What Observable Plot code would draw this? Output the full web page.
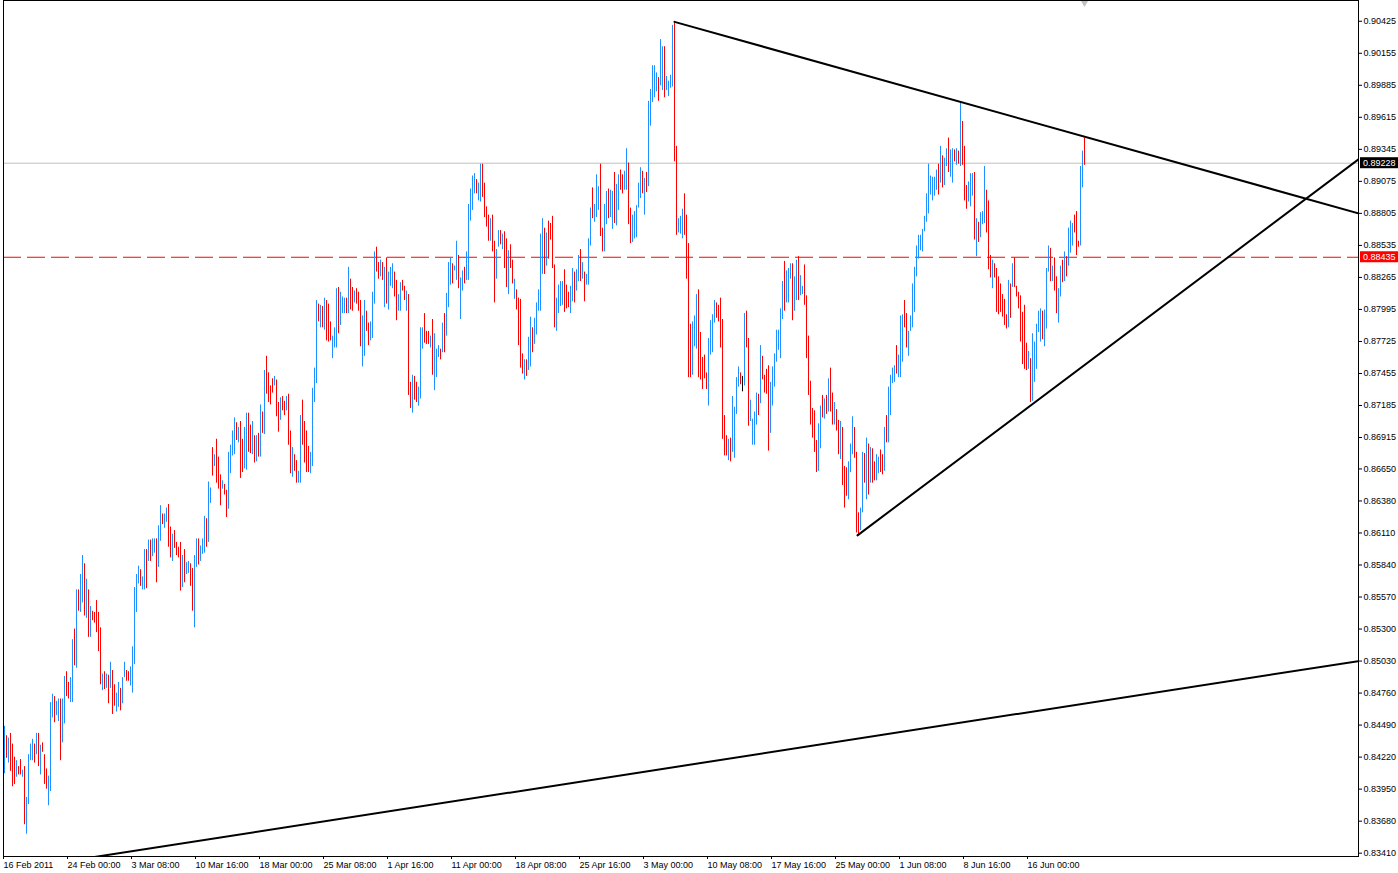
<!DOCTYPE html>
<html>
<head>
<meta charset="utf-8">
<script src="https://cdn.jsdelivr.net/npm/d3@7"></script>
<script src="https://cdn.jsdelivr.net/npm/@observablehq/plot@0.6"></script>
<style>
html, body { margin: 0; padding: 0; background: #ffffff; overflow: hidden; }
#chart svg { display: block; }
</style>
</head>
<body>
<div id="chart"></div>
<script>
// 4-hour bars, prices in units of 0.0001 (pips)
const highPips = [
  8448,8440,8438,8442,8433,8422,8419,8414,8420,8411,
  8414,8388,8424,8433,8437,8433,8442,8442,8432,8434,
  8424,8412,8406,8468,8475,8473,8469,8471,8471,8471,
  8490,8494,8485,8489,8521,8530,8563,8563,8576,8592,
  8585,8572,8563,8549,8545,8544,8554,8544,8531,8492,
  8494,8492,8491,8502,8495,8483,8476,8485,8480,8489,
  8502,8495,8494,8498,8515,8565,8576,8583,8580,8574,
  8597,8597,8605,8605,8606,8606,8606,8617,8634,8627,
  8627,8632,8635,8616,8610,8613,8603,8599,8603,8592,
  8597,8586,8587,8585,8581,8592,8606,8606,8600,8606,
  8625,8623,8654,8649,8683,8677,8690,8675,8660,8655,
  8652,8647,8679,8685,8697,8708,8704,8700,8705,8690,
  8700,8712,8712,8702,8705,8693,8693,8695,8719,8713,
  8748,8760,8746,8735,8741,8743,8740,8721,8725,8726,
  8722,8726,8728,8697,8683,8677,8672,8663,8710,8723,
  8705,8697,8684,8679,8733,8750,8807,8804,8803,8802,
  8809,8807,8804,8789,8777,8784,8817,8818,8814,8810,
  8809,8809,8835,8825,8818,8815,8817,8814,8807,8794,
  8807,8798,8788,8789,8814,8848,8852,8839,8841,8839,
  8835,8843,8831,8835,8838,8831,8824,8812,8822,8824,
  8819,8815,8812,8738,8744,8743,8738,8734,8784,8784,
  8796,8781,8781,8777,8791,8779,8766,8769,8766,8788,
  8796,8813,8839,8843,8838,8836,8857,8845,8826,8832,
  8835,8848,8888,8901,8912,8914,8909,8906,8922,8922,
  8906,8886,8879,8876,8879,8857,8850,8866,8866,8863,
  8865,8859,8849,8854,8841,8825,8816,8809,8808,8762,
  8757,8757,8776,8793,8784,8792,8805,8816,8863,8876,
  8868,8864,8874,8872,8878,8837,8809,8820,8823,8823,
  8833,8820,8814,8819,8834,8831,8833,8845,8850,8839,
  8831,8829,8859,8885,8902,8888,8913,8903,8922,8868,
  8888,8899,8901,8900,8899,8915,8905,8913,8917,8913,
  8916,8935,8923,8885,8879,8882,8887,8906,8919,8916,
  8910,8915,8975,8985,9005,9005,8999,8995,9027,9021,
  9021,8996,8992,8997,9039,9041,8937,8876,8878,8884,
  8897,8879,8855,8787,8789,8794,8812,8816,8780,8759,
  8761,8746,8775,8790,8795,8807,8805,8803,8809,8791,
  8710,8693,8690,8691,8726,8717,8742,8751,8746,8743,
  8796,8798,8775,8723,8707,8713,8729,8728,8769,8760,
  8744,8749,8752,8738,8751,8762,8782,8782,8800,8823,
  8840,8832,8834,8838,8838,8827,8841,8844,8828,8819,
  8837,8811,8777,8739,8716,8714,8689,8703,8718,8727,
  8724,8727,8741,8750,8729,8721,8715,8706,8705,8700,
  8667,8666,8671,8686,8709,8700,8679,8628,8632,8679,
  8678,8691,8686,8683,8682,8671,8677,8675,8681,8677,
  8700,8710,8734,8744,8750,8752,8769,8761,8794,8795,
  8807,8796,8781,8794,8821,8835,8853,8862,8862,8867,
  8878,8897,8922,8912,8911,8911,8917,8922,8937,8929,
  8927,8935,8944,8934,8935,8934,8935,8933,8974,8958,
  8937,8904,8907,8914,8914,8915,8876,8873,8881,8882,
  8920,8900,8891,8845,8841,8838,8834,8827,8821,8812,
  8808,8795,8824,8821,8838,8843,8819,8814,8811,8797,
  8803,8771,8764,8758,8779,8772,8787,8798,8800,8798,
  8799,8834,8853,8851,8836,8843,8827,8817,8836,8841,
  8848,8844,8868,8874,8872,8879,8882,8857,8920,8933,
  8944
];
const lowPips = [
  8408,8421,8417,8410,8397,8399,8405,8407,8407,8405,
  8365,8357,8382,8419,8419,8417,8424,8414,8407,8426,
  8399,8395,8381,8393,8455,8451,8457,8452,8419,8434,
  8450,8473,8471,8468,8468,8499,8497,8545,8544,8552,
  8541,8539,8523,8523,8537,8535,8527,8511,8483,8478,
  8479,8480,8467,8480,8458,8465,8460,8464,8461,8467,
  8489,8486,8486,8482,8476,8500,8544,8568,8566,8563,
  8563,8564,8587,8587,8591,8594,8569,8582,8604,8618,
  8615,8620,8599,8590,8587,8598,8592,8590,8562,8565,
  8569,8576,8577,8566,8545,8531,8582,8584,8587,8593,
  8594,8599,8603,8636,8659,8667,8653,8648,8634,8648,
  8643,8624,8631,8661,8676,8677,8689,8687,8657,8662,
  8665,8664,8679,8678,8677,8670,8671,8675,8675,8695,
  8694,8728,8721,8719,8729,8735,8709,8696,8706,8714,
  8710,8714,8685,8661,8658,8663,8653,8653,8653,8685,
  8670,8662,8662,8661,8667,8721,8737,8789,8784,8784,
  8782,8773,8772,8773,8758,8767,8767,8779,8786,8796,
  8796,8796,8796,8799,8798,8805,8804,8798,8768,8751,
  8760,8781,8769,8773,8775,8804,8831,8825,8827,8824,
  8801,8804,8799,8819,8817,8810,8790,8798,8798,8815,
  8807,8798,8727,8716,8712,8723,8721,8718,8724,8766,
  8771,8770,8770,8767,8744,8731,8742,8759,8757,8763,
  8763,8777,8801,8820,8821,8832,8824,8817,8791,8815,
  8821,8824,8824,8874,8883,8897,8897,8891,8890,8894,
  8877,8869,8857,8857,8848,8805,8825,8852,8854,8850,
  8834,8818,8812,8834,8821,8808,8799,8769,8750,8745,
  8740,8743,8748,8751,8763,8770,8778,8798,8798,8829,
  8829,8836,8842,8858,8834,8784,8781,8796,8802,8803,
  8797,8800,8801,8796,8806,8805,8815,8823,8823,8825,
  8806,8820,8820,8853,8876,8873,8877,8883,8861,8848,
  8848,8871,8876,8877,8867,8872,8870,8883,8900,8897,
  8900,8900,8871,8855,8856,8859,8860,8885,8893,8897,
  8879,8898,8903,8954,8974,8978,8983,8975,8988,8984,
  8978,8984,8979,8986,8987,8924,8862,8864,8863,8859,
  8862,8825,8742,8742,8744,8768,8766,8742,8740,8732,
  8741,8732,8718,8761,8763,8788,8792,8789,8767,8690,
  8676,8676,8672,8671,8679,8674,8711,8734,8736,8730,
  8735,8767,8701,8705,8685,8685,8702,8710,8720,8740,
  8729,8728,8680,8695,8718,8734,8755,8765,8758,8791,
  8798,8805,8805,8825,8790,8798,8807,8807,8811,8812,
  8803,8758,8727,8702,8691,8679,8662,8663,8682,8708,
  8707,8711,8713,8713,8702,8702,8697,8677,8673,8651,
  8632,8642,8639,8662,8677,8674,8611,8609,8613,8628,
  8653,8639,8643,8653,8653,8655,8655,8661,8662,8660,
  8663,8687,8687,8710,8737,8738,8745,8742,8742,8755,
  8784,8767,8760,8781,8784,8797,8827,8842,8849,8848,
  8865,8873,8880,8896,8891,8895,8900,8896,8906,8902,
  8904,8920,8915,8911,8906,8924,8921,8922,8920,8921,
  8891,8884,8890,8886,8895,8858,8844,8856,8860,8871,
  8872,8864,8833,8826,8817,8826,8797,8795,8797,8793,
  8786,8783,8784,8792,8818,8818,8810,8800,8772,8753,
  8749,8748,8749,8721,8722,8738,8749,8780,8772,8774,
  8768,8783,8831,8823,8823,8815,8796,8788,8810,8822,
  8823,8827,8836,8847,8853,8864,8845,8852,8853,8902,
  8921
];
// u = bull bar (blue), d = bear bar (red), n = unchanged (black)
const barDirection = `
u d u d d d u d d u
d u u u u d u d u d
d d u u u d u u d u
u d d u u d u d u u
d u d u d d d d d u
d u d u d d u u d u
u d d u u u u u d u
u d u d u u d u u d
u u d d u d d d d u
d u u d d u u d u u
u d u u d u d d d u
d d u u u u d u d d
u u d d u d u d u d
u d d d d u d d u d
d u d d u d d u u d
d d d u u u u d u d
u d d d u u u d u u
u d u d d u d d d u
u d d u u u d d u d
u d u u u d d u u d
d u d d u d d u u u
d d d u d u u u d u
d u u u d u u d u u
d u u u u u d u u d
d d d u d d u u d u
d d u d d u d d d d
u d u u d u u u u u
d u d d d d u u u u
d d d u u d u u d u
d u u u d u u u d d
u u d u u d u u d d
u u d d u u u u u d
u d u u u u u d u u
d u u u u d d u u u
d d d d u u u d d d
d d u u u u d d d d
d d u d u u u u d n
u d d u u u u d u d
d d d u u u u u u u
d u u u d u u d u u
d d d d d d d u u d
u d u d d u d d u d
d d u u u d d d u u
d u d u d d u u d d
u d u u u u d u u u
d d u u u u u u u u
u u u u u u u d u d
u u d u u d u d u d
d d u u u d u d u u
u d d d u d d d d d
d d u d u d d d d d
d d u d u u u u u d
u u u d u d d u u d
u d u u u d d d u u
d
`.trim().split(/\s+/);

// x-axis: bar index of each time label, and the labels
const tickBars = [0, 32, 64, 96, 128, 160, 192, 224, 256, 288, 320, 352, 384, 416, 448, 480, 512];
const tickLabels = [
  "16 Feb 2011", "24 Feb 00:00", "3 Mar 08:00", "10 Mar 16:00", "18 Mar 00:00",
  "25 Mar 08:00", "1 Apr 16:00", "11 Apr 00:00", "18 Apr 08:00", "25 Apr 16:00",
  "3 May 00:00", "10 May 08:00", "17 May 16:00", "25 May 00:00", "1 Jun 08:00",
  "8 Jun 16:00", "16 Jun 00:00"
];
// y-axis price labels
const priceTicks = [
  0.90425, 0.90155, 0.89885, 0.89615, 0.89345, 0.89075, 0.88805, 0.88535, 0.88265,
  0.87995, 0.87725, 0.87455, 0.87185, 0.86915, 0.86650, 0.86380, 0.86110, 0.85840,
  0.85570, 0.85300, 0.85030, 0.84760, 0.84490, 0.84220, 0.83950, 0.83680, 0.83410
];
const bidPrice = 0.89228;
const levelPrice = 0.88435;

// trend lines: [bar index, price] end points
const resistanceLine = [{bar: 335, price: 0.9042}, {bar: 677, price: 0.88805}];
const supportLine = [{bar: 426.5, price: 0.8609}, {bar: 677, price: 0.8926}];
const longSupportLine = [{bar: 42, price: 0.8337}, {bar: 677, price: 0.8503}];

const n = Math.min(highPips.length, lowPips.length, barDirection.length);
const bars = [];
for (let i = 0; i < n; i++) {
  bars.push({bar: i, high: highPips[i] / 1e4, low: lowPips[i] / 1e4, dir: barDirection[i]});
}
const trendRows = [
  ...resistanceLine.map(d => ({...d, id: "r"})),
  ...supportLine.map(d => ({...d, id: "s"})),
  ...longSupportLine.map(d => ({...d, id: "l"}))
];

const W = 1398, H = 873;
const mL = 3, mR = 40, mT = 0, mB = 17;
const fmt5 = d3.format(".5f");

const chart = Plot.plot({
  width: W,
  height: H,
  marginLeft: mL,
  marginRight: mR,
  marginTop: mT,
  marginBottom: mB,
  style: {fontFamily: "'Liberation Sans', Arial, sans-serif", fontSize: "9px", background: "#ffffff", color: "#000000"},
  x: {type: "linear", domain: [-0.5, 677], axis: null, label: null},
  y: {type: "linear", domain: [0.83382, 0.9060], axis: null, label: null},
  marks: [
    Plot.ruleY([bidPrice], {stroke: "#c0c0c0", strokeWidth: 1}),
    Plot.ruleY([levelPrice], {stroke: "#ff0000", strokeWidth: 1, strokeDasharray: "18,6"}),
    Plot.ruleX(bars.filter(d => d.dir === "u"), {x: "bar", y1: "low", y2: "high", stroke: "#1e90ff", strokeWidth: 1}),
    Plot.ruleX(bars.filter(d => d.dir === "d"), {x: "bar", y1: "low", y2: "high", stroke: "#ff0000", strokeWidth: 1}),
    Plot.ruleX(bars.filter(d => d.dir === "n"), {x: "bar", y1: "low", y2: "high", stroke: "#000000", strokeWidth: 1}),
    Plot.line(trendRows, {x: "bar", y: "price", z: "id", stroke: "#000000", strokeWidth: 2, clip: true}),
    Plot.dot([bars[bars.length - 1]], {x: "bar", frameAnchor: "top", symbol: "diamond", r: 4, fill: "#c0c0c0", stroke: "none"}),
    Plot.frame({stroke: "#000000"}),
    Plot.axisY(priceTicks, {anchor: "right", tickSize: 3, tickPadding: 2, tickFormat: fmt5, label: null, fill: "#000000", stroke: "#000000"}),
    Plot.axisX(tickBars, {anchor: "bottom", tickSize: 3, tickPadding: 2, textAnchor: "start", dx: -1,
      tickFormat: d => tickLabels[tickBars.indexOf(d)], label: null, fill: "#000000", stroke: "#000000"})
  ]
});

// price boxes on the right axis, positioned by Plot's own y scale
const yScale = chart.scale("y");
const svg = d3.select(chart);
[{price: bidPrice, bg: "#000000"}, {price: levelPrice, bg: "#ff0000"}].forEach(p => {
  const yy = yScale.apply(p.price);
  svg.append("rect")
    .attr("x", W - mR + 2).attr("y", yy - 5.5)
    .attr("width", 38).attr("height", 11)
    .attr("fill", p.bg);
  svg.append("text")
    .attr("x", W - mR + 5).attr("y", yy).attr("dy", "0.35em")
    .attr("text-anchor", "start")
    .attr("fill", "#ffffff")
    .style("font-family", "'Liberation Sans', Arial, sans-serif")
    .style("font-size", "9px")
    .text(fmt5(p.price));
});

document.getElementById("chart").appendChild(chart);
</script>
</body>
</html>
